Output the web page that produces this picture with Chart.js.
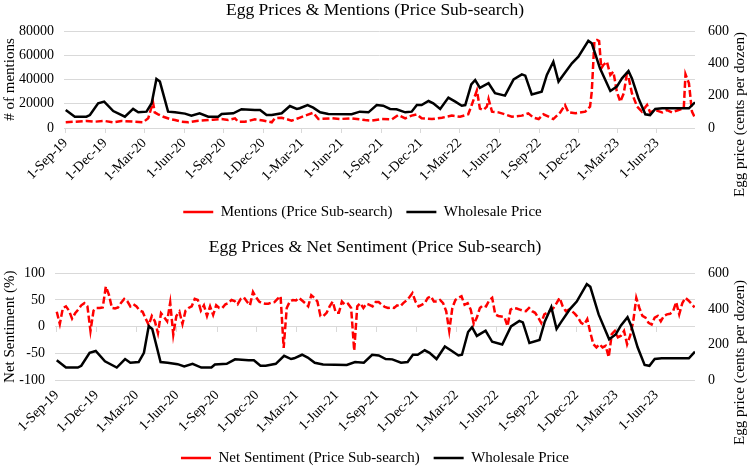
<!DOCTYPE html>
<html>
<head>
<meta charset="utf-8">
<script src="https://cdn.jsdelivr.net/npm/chart.js@4.4.0/dist/chart.umd.min.js"></script>
<style>
  html, body { margin: 0; padding: 0; background: #fff; overflow: hidden; }
  .box { position: absolute; left: 0; width: 750px; }
  #topBox { top: 0; height: 234px; }
  #bottomBox { top: 234px; height: 250px; }
</style>
</head>
<body>
<div class="box" id="topBox"><canvas id="mentionsChart"></canvas></div>
<div class="box" id="bottomBox"><canvas id="sentimentChart"></canvas></div>
<script>
// Data (x values are days since 1-Sep-19)
var startDate = '2019-09-01';
var tickDates = ['2019-09-01', '2019-12-01', '2020-03-01', '2020-06-01', '2020-09-01', '2020-12-01',
  '2021-03-01', '2021-06-01', '2021-09-01', '2021-12-01', '2022-03-01', '2022-06-01',
  '2022-09-01', '2022-12-01', '2023-03-01', '2023-06-01'];
var tickLabels = ['1-Sep-19', '1-Dec-19', '1-Mar-20', '1-Jun-20', '1-Sep-20', '1-Dec-20',
  '1-Mar-21', '1-Jun-21', '1-Sep-21', '1-Dec-21', '1-Mar-22', '1-Jun-22',
  '1-Sep-22', '1-Dec-22', '1-Mar-23', '1-Jun-23'];

// Wholesale price (cents per dozen)
var priceDays = [0, 21, 48, 56, 75, 89, 110, 137, 156, 168, 187, 199, 210, 218, 237, 253, 276, 291, 310, 330,
  353, 361, 388, 407, 438, 450, 465, 477, 500, 519, 535, 542, 560, 573, 589, 608, 662, 681, 701, 720,
  735, 751, 766, 786, 801, 813, 824, 840, 851, 867, 886, 902, 917, 925, 939, 948, 959, 979, 994, 1017,
  1037, 1056, 1064, 1079, 1102, 1114, 1129, 1141, 1152, 1172, 1187, 1210, 1218, 1237, 1261, 1276, 1288, 1303, 1311, 1326,
  1342, 1353, 1365, 1381, 1443, 1457];
var priceCents = [111, 70, 70, 80, 153, 163, 105, 70, 118, 97, 101, 153, 303, 287, 101, 97, 89, 76, 91, 70,
  70, 87, 91, 116, 111, 111, 80, 80, 91, 136, 118, 122, 142, 126, 97, 87, 85, 101, 97, 142,
  138, 118, 116, 97, 101, 142, 142, 167, 153, 118, 188, 163, 138, 142, 270, 297, 248, 277, 215, 200,
  301, 332, 324, 208, 225, 328, 410, 287, 328, 400, 441, 539, 524, 369, 229, 256, 307, 353, 307, 184,
  85, 80, 118, 122, 122, 159];

// Mentions (price sub-search)
var mentionDays = [0, 21, 48, 67, 90, 110, 129, 160, 179, 191, 202, 206, 214, 226, 241, 253, 268, 284, 303, 322,
  341, 361, 376, 392, 399, 415, 438, 457, 477, 484, 500, 523, 538, 554, 573, 585, 616, 635, 662, 693,
  708, 732, 755, 770, 786, 801, 813, 824, 848, 871, 894, 913, 932, 940, 952, 959, 967, 975, 979, 987,
  1002, 1017, 1033, 1056, 1071, 1083, 1095, 1106, 1118, 1129, 1145, 1156, 1164, 1180, 1203, 1214, 1218, 1224, 1230, 1235,
  1240, 1245, 1253, 1261, 1268, 1276, 1284, 1292, 1299, 1303, 1311, 1323, 1334, 1346, 1353, 1365, 1381, 1392, 1404, 1419,
  1431, 1435, 1443, 1450, 1457];
var mentionCounts = [4700, 5200, 5800, 5200, 5800, 4700, 5800, 5200, 4700, 8000, 21200, 12900, 11300, 9300, 7400, 6600, 5200, 4700, 5800, 6300,
  6900, 7400, 6600, 8000, 5200, 5200, 7100, 6100, 4700, 8000, 8500, 6100, 8000, 10200, 12600, 7400, 8000, 7400, 8000, 6600,
  6100, 7400, 7100, 10700, 8000, 10200, 11300, 8000, 7400, 8500, 10200, 9300, 11300, 19000, 31000, 16000, 14800, 17600, 23900, 13500,
  12900, 11300, 9300, 10200, 12100, 8500, 7400, 11300, 9300, 7400, 12900, 19000, 12900, 12100, 13500, 17600, 30000, 71200, 72600, 71700,
  49200, 52000, 54700, 43700, 46400, 30000, 21700, 28600, 44000, 42000, 28600, 17600, 13500, 19000, 12900, 14800, 12900, 14800, 12900, 14800,
  16200, 44300, 36800, 13500, 8500];

// Net sentiment (%), one value per week from 1-Sep-19
var sentimentWeekly = [28, 5, 35, 38, 30, 15, 25, 32, 40, 44, 38, -8, 30, 35, 35, 36, 75, 60, 35, 34,
  36, 45, 52, 48, 38, 42, 38, 30, 28, 15, 3, 20, 10, -12, 25, 18, 10, 45, -15, 20,
  28, 5, 30, 35, 38, 52, 50, 30, 40, 20, 38, 22, 40, 35, 35, 42, 44, 50, 48, 42,
  52, 55, 47, 40, 65, 55, 47, 44, 43, 43, 45, 46, 52, 57, -40, 35, 47, 50, 49, 54,
  49, 44, 38, 59, 54, 47, 20, 20, 26, 38, 47, 26, 26, 47, 41, 43, 35, -45, 38, 44,
  35, 43, 41, 38, 46, 46, 41, 37, 35, 36, 35, 40, 38, 44, 49, 55, 63, 47, 38, 41,
  44, 54, 57, 47, 47, 50, 44, 29, -8, 35, 50, 54, 57, 41, 44, 32, 5, 17, 35, 40,
  38, 49, 54, 23, 20, 19, 18, 1, 32, 35, 34, 32, 30, 29, 35, 29, 26, 17, 7, 23,
  26, 30, 35, 44, 54, 38, 29, 32, 29, 24, 17, 7, 4, 14, -11, -33, -39, -33, -39, -36,
  -57, -14, -8, -20, -17, -8, -33, -17, 10, 54, 35, 20, 17, 7, 4, 17, 20, 10, 20, 23,
  24, 29, 46, 23, 44, 54, 49, 43, 36];

function dayOf(iso) {
  return (Date.parse(iso) - Date.parse(startDate)) / 86400000;
}
var tickDays = tickDates.map(dayOf);

function pairs(xs, ys) {
  return xs.map(function(x, i) { return { x: x, y: ys[i] }; });
}
var pricePoints = pairs(priceDays, priceCents);
var mentionPoints = pairs(mentionDays, mentionCounts);
var sentimentPoints = sentimentWeekly.map(function(v, i) { return { x: i * 7, y: v }; });

Chart.defaults.font.family = '"Liberation Serif", "Times New Roman", serif';
Chart.defaults.color = '#000';

var tickFont = { size: 14 };
var gridColor = '#d9d9d9';

// right side axis title reads bottom-to-top, and legend nudge
var extras = {
  id: 'extras',
  afterLayout: function(chart, args, opts) {
    if (opts.legendShift) {
      chart.legend.left -= opts.legendShift;
    }
  },
  afterDraw: function(chart, args, opts) {
    var ctx = chart.ctx;
    ctx.save();
    ctx.translate(opts.x, opts.y);
    ctx.rotate(-Math.PI / 2);
    ctx.font = '15px "Liberation Serif"';
    ctx.fillStyle = '#000';
    ctx.textAlign = 'left';
    ctx.textBaseline = 'middle';
    ctx.fillText(opts.text, 0, 0);
    ctx.restore();
  }
};

function dateAxis(height, tickLen, labelPad) {
  return {
    type: 'linear',
    min: -4,
    max: 1457,
    afterBuildTicks: function(axis) {
      axis.ticks = tickDays.map(function(d) { return { value: d }; });
    },
    afterFit: function(axis) { axis.height = height; },
    ticks: {
      autoSkip: false,
      minRotation: 45,
      maxRotation: 45,
      padding: labelPad,
      font: tickFont,
      callback: function(value, index) { return tickLabels[index]; }
    },
    grid: { display: tickLen > 0, drawOnChartArea: false, tickLength: tickLen, color: gridColor },
    border: { display: false }
  };
}

function priceAxis() {
  return {
    position: 'right',
    min: 0,
    max: 600,
    ticks: { stepSize: 100, padding: 13, font: tickFont },
    grid: { drawOnChartArea: false, drawTicks: false },
    border: { display: false },
    afterFit: function(axis) { axis.width = 55; }
  };
}

function legendOpts() {
  return {
    position: 'bottom',
    labels: {
      usePointStyle: true,
      pointStyle: 'line',
      pointStyleWidth: 30,
      padding: 14,
      font: { size: 15 },
      sort: function(a, b) { return a.datasetIndex - b.datasetIndex; }
    }
  };
}

// Mentions chart
var topAxes = {
  x: dateAxis(62.5, 5, 2),
  y: {
    position: 'left',
    min: 0,
    max: 80000,
    ticks: { stepSize: 20000, padding: 10, font: tickFont, callback: function(v) { return String(v); } },
    grid: { color: gridColor, drawTicks: false },
    border: { display: false },
    title: { display: true, text: '# of mentions', font: { size: 15 }, padding: { top: 1, bottom: 0 } },
    afterFit: function(axis) { axis.width = 64; }
  },
  y1: priceAxis()
};

new Chart(document.getElementById('mentionsChart'), {
  type: 'line',
  data: {
    datasets: [{
      label: 'Mentions (Price Sub-search)',
      data: mentionPoints,
      yAxisID: 'y',
      borderColor: '#ff0000',
      borderWidth: 2.5,
      borderDash: [7, 3],
      pointRadius: 0,
      order: 2
    }, {
      label: 'Wholesale Price',
      data: pricePoints,
      yAxisID: 'y1',
      borderColor: '#000000',
      borderWidth: 2.5,
      pointRadius: 0,
      order: 1
    }]
  },
  options: {
    responsive: true,
    maintainAspectRatio: false,
    animation: false,
    layout: { padding: { top: 0, bottom: 4.5, left: 0, right: 0 } },
    scales: topAxes,
    plugins: {
      title: {
        display: true,
        text: 'Egg Prices & Mentions (Price Sub-search)',
        font: { size: 17.5, weight: 'normal' },
        color: '#000',
        padding: { top: 0, bottom: 10 }
      },
      legend: legendOpts(),
      tooltip: { enabled: false },
      extras: { text: 'Egg price (cents per dozen)', x: 740, y: 197, legendShift: 25 }
    }
  },
  plugins: [extras]
});

// Sentiment chart
var bottomAxes = {
  x: dateAxis(56.5, 0, 7),
  x2: {
    axis: 'x',
    type: 'linear',
    position: { y: 0 },
    min: -4,
    max: 1457,
    afterBuildTicks: function(axis) {
      axis.ticks = tickDays.map(function(d) { return { value: d }; });
    },
    ticks: { display: false },
    grid: { drawOnChartArea: false, tickLength: 5, color: gridColor },
    border: { display: false }
  },
  y: {
    position: 'left',
    min: -100,
    max: 100,
    ticks: { stepSize: 50, padding: 10, font: tickFont },
    grid: { color: gridColor, drawTicks: false },
    border: { display: false },
    title: { display: true, text: 'Net Sentiment (%)', font: { size: 15 }, padding: { top: 1, bottom: 0 } },
    afterFit: function(axis) { axis.width = 55; }
  },
  y1: priceAxis()
};

new Chart(document.getElementById('sentimentChart'), {
  type: 'line',
  data: {
    datasets: [{
      label: 'Net Sentiment (Price Sub-search)',
      data: sentimentPoints,
      yAxisID: 'y',
      borderColor: '#ff0000',
      borderWidth: 2.5,
      borderDash: [7, 3],
      pointRadius: 0,
      order: 2
    }, {
      label: 'Wholesale Price',
      data: pricePoints,
      yAxisID: 'y1',
      borderColor: '#000000',
      borderWidth: 2.5,
      pointRadius: 0,
      order: 1
    }]
  },
  options: {
    responsive: true,
    maintainAspectRatio: false,
    animation: false,
    layout: { padding: { top: 0, bottom: 8.5, left: 0, right: 0 } },
    scales: bottomAxes,
    plugins: {
      title: {
        display: true,
        text: 'Egg Prices & Net Sentiment (Price Sub-search)',
        font: { size: 17.5, weight: 'normal' },
        color: '#000',
        padding: { top: 2.5, bottom: 15.8 }
      },
      legend: legendOpts(),
      tooltip: { enabled: false },
      extras: { text: 'Egg price (cents per dozen)', x: 740, y: 211, legendShift: 0 }
    }
  },
  plugins: [extras]
});
</script>
</body>
</html>
